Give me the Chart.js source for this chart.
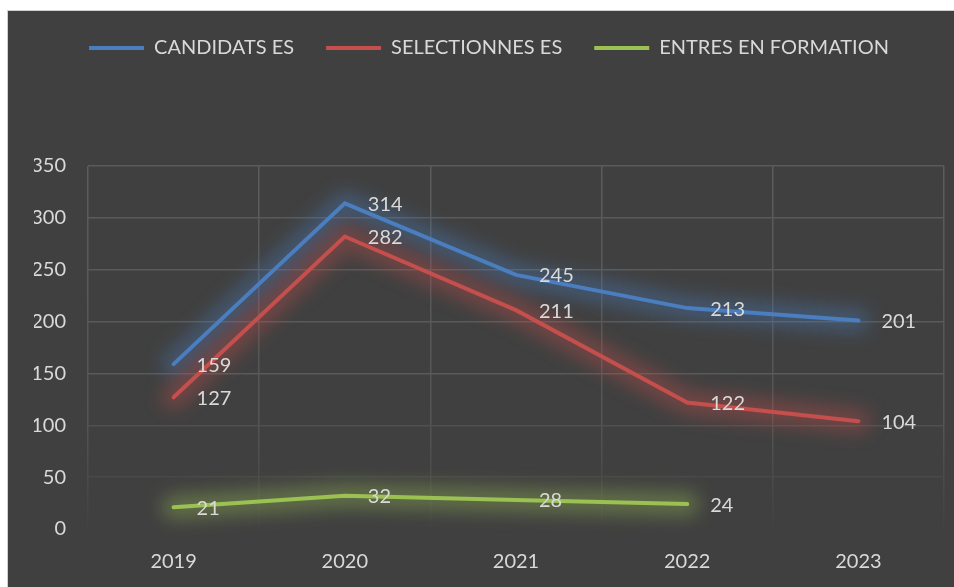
<!DOCTYPE html>
<html lang="fr">
<head>
  <meta charset="UTF-8" />
  <title>Candidats / Sélectionnés / Entrés en formation</title>
  <script src="https://cdn.jsdelivr.net/npm/chart.js"></script>
  <style>
    html, body {
      margin: 0;
      padding: 0;
      background: #ffffff;
    }
    .chart-box {
      position: absolute;
      left: 7px;
      top: 10px;
      width: 947px;
      height: 577px;
      background: #404040;
      border-top: 1px solid #d0d0d0;
      border-left: 1px solid #d0d0d0;
      box-sizing: border-box;
    }
  </style>
</head>
<body>
  <div class="chart-box">
    <canvas id="lineChart"></canvas>
  </div>

  <script>
    const annees = ['2019', '2020', '2021', '2022', '2023'];
    const candidats = [159, 314, 245, 213, 201];
    const selectionnes = [127, 282, 211, 122, 104];
    const entres = [21, 32, 28, 24, null];

    const texte = '#d9d9d9';
    const police = 'Lato, "Noto Sans", sans-serif';
    Chart.defaults.font.family = police;
    Chart.defaults.font.size = 20;
    Chart.defaults.color = texte;

    // halo flou autour des courbes (trait large et flou sous chaque courbe)
    const halo = {
      id: 'halo',
      beforeDatasetsDraw(chart) {
        const ctx = chart.ctx;
        chart.data.datasets.forEach((ds, i) => {
          const pts = chart.getDatasetMeta(i).data;
          ctx.save();
          ctx.filter = 'blur(9px)';
          ctx.strokeStyle = ds.glow;
          ctx.lineWidth = 24;
          ctx.lineCap = 'round';
          ctx.lineJoin = 'round';
          ctx.beginPath();
          let debut = true;
          pts.forEach((pt, j) => {
            if (ds.data[j] === null) { debut = true; return; }
            if (debut) ctx.moveTo(pt.x, pt.y); else ctx.lineTo(pt.x, pt.y);
            debut = false;
          });
          ctx.stroke();
          ctx.restore();
        });
      }
    };

    // étiquettes de valeurs à droite des points
    const etiquettes = {
      id: 'etiquettes',
      afterDatasetsDraw(chart) {
        const ctx = chart.ctx;
        ctx.save();
        ctx.font = '20px ' + police;
        ctx.fillStyle = texte;
        ctx.textAlign = 'left';
        ctx.textBaseline = 'middle';
        chart.data.datasets.forEach((ds, i) => {
          const meta = chart.getDatasetMeta(i);
          meta.data.forEach((pt, j) => {
            const v = ds.data[j];
            if (v === null || v === undefined) return;
            ctx.fillText(String(v), pt.x + 23, pt.y + 1);
          });
        });
        ctx.restore();
      }
    };

    // espace sous la légende
    const espaceLegende = {
      id: 'espaceLegende',
      beforeInit(chart) {
        const fit = chart.legend.fit;
        chart.legend.fit = function () {
          fit.bind(chart.legend)();
          this.height += 98;
        };
      }
    };

    function grilleVerticale(c) {
      const a = c.chart.chartArea;
      if (!a) return '#585858';
      const g = c.chart.ctx.createLinearGradient(0, a.top, 0, a.bottom);
      g.addColorStop(0, '#5c5c5c');
      g.addColorStop(0.7, '#555555');
      g.addColorStop(1, '#414141');
      return g;
    }

    function grilleHorizontale(c) {
      const v = c.tick ? c.tick.value : 0;
      if (v === 0) return 'rgba(0,0,0,0)';
      if (v === 50) return '#494949';
      if (v === 100) return '#505050';
      return '#5a5a5a';
    }

    new Chart(document.getElementById('lineChart'), {
      type: 'line',
      data: {
        labels: annees,
        datasets: [
          {
            label: 'CANDIDATS ES',
            data: candidats,
            borderColor: '#4a7ebf',
            backgroundColor: '#4a7ebf',
            glow: 'rgba(74,126,191,0.38)',
            borderWidth: 4,
            pointRadius: 0,
            borderCapStyle: 'round',
            tension: 0
          },
          {
            label: 'SELECTIONNES ES',
            data: selectionnes,
            borderColor: '#c44f4c',
            backgroundColor: '#c44f4c',
            glow: 'rgba(196,79,76,0.38)',
            borderWidth: 4,
            pointRadius: 0,
            borderCapStyle: 'round',
            tension: 0
          },
          {
            label: 'ENTRES EN FORMATION',
            data: entres,
            borderColor: '#9bc153',
            backgroundColor: '#9bc153',
            glow: 'rgba(155,193,83,0.38)',
            borderWidth: 4,
            pointRadius: 0,
            borderCapStyle: 'round',
            tension: 0
          }
        ]
      },
      options: {
        responsive: true,
        maintainAspectRatio: false,
        animation: false,
        layout: {
          padding: { top: -5, right: 10, bottom: 0, left: 26 }
        },
        plugins: {
          legend: {
            position: 'top',
            align: 'center',
            labels: {
              boxWidth: 55,
              boxHeight: 4,
              padding: 32,
              color: texte,
              font: { size: 20 },
              generateLabels(chart) {
                const items = Chart.defaults.plugins.legend.labels.generateLabels(chart);
                items.forEach(it => { it.lineWidth = 0; });
                return items;
              }
            }
          },
          tooltip: { enabled: false }
        },
        scales: {
          x: {
            offset: true,
            grid: {
              offset: true,
              drawTicks: false,
              color: grilleVerticale,
              lineWidth: 1.5
            },
            border: { display: false },
            ticks: { padding: 21, color: texte, font: { size: 20 } },
            afterFit(scale) { scale.height = 58; }
          },
          y: {
            min: 0,
            max: 350,
            ticks: { stepSize: 50, padding: 22, color: texte, font: { size: 20 } },
            grid: {
              drawTicks: false,
              color: grilleHorizontale,
              lineWidth: 1.5
            },
            border: { display: false },
            afterFit(scale) { scale.width = 54; }
          }
        }
      },
      plugins: [halo, etiquettes, espaceLegende]
    });
  </script>
</body>
</html>
